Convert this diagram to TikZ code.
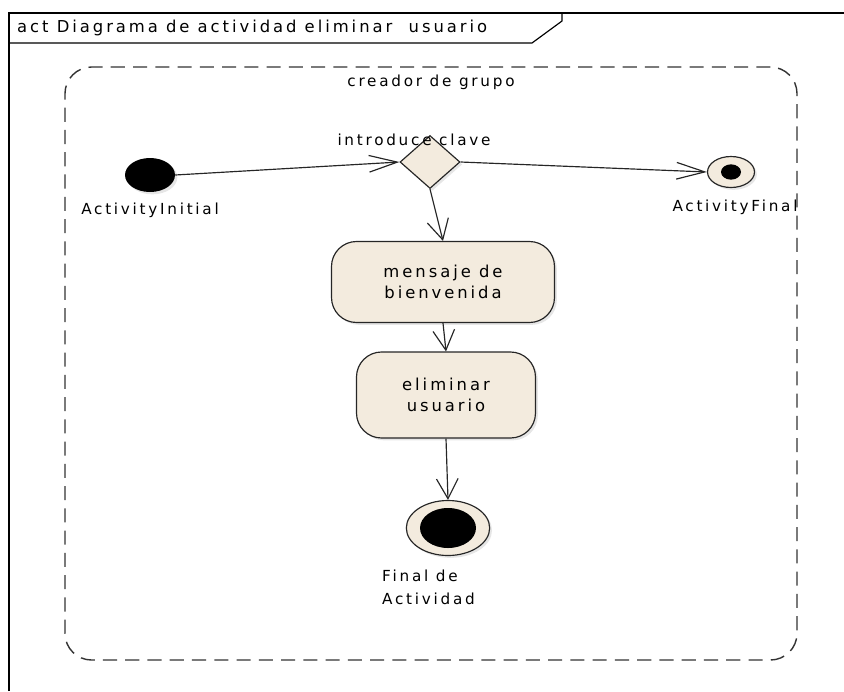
\documentclass[tikz,border=0pt]{standalone}
\usepackage{fontspec}
\setmainfont{DejaVu Sans}[LetterSpace=18]
\usepackage{xcolor}
\usetikzlibrary{shapes.geometric, arrows.meta, positioning, shadows}
\definecolor{beige}{RGB}{243,235,222}

\begin{document}
\begin{tikzpicture}[x=0.03cm, y=-0.03cm,
        accion/.style={rectangle, draw=black!85, fill=beige, line width=1pt, rounded corners=0.75cm, align=center,
            font=\fontsize{14}{18}\selectfont, drop shadow={shadow xshift=2pt, shadow yshift=-2pt, opacity=0.2}},
        flecha/.style={-{Straight Barb[length=0.6cm, width=0.65cm]}, line width=1pt, color=black!85},
        flechah/.style={-{Straight Barb[length=0.85cm, width=0.5cm]}, line width=1pt, color=black!85},
        lab/.style={font=\fontsize{13}{19}\selectfont, inner sep=0pt},
        particion/.style={rectangle, draw=black!80, line width=1.2pt, dash pattern=on 12pt off 7pt, rounded corners=0.8cm}
    ]
    \useasboundingbox (0,0) rectangle (844,691);

    % Marco del diagrama y pestaña del título
    \draw [line width=1pt] (9,691) -- (9,13) -- (844,13);
    \draw [line width=1pt] (9,43) -- (532,43) -- (562,21) -- (562,13);
    \node (titulo) [lab, anchor=west, font=\fontsize{14}{18}\selectfont] at (17,28) {act Diagrama de actividad eliminar \ usuario};

    % Partición
    \node (grupo) [particion, minimum width=21.96cm, minimum height=17.79cm] at (431,363.5) {};
    \node (grupolab) [lab] at (431,82) {creador de grupo};

    % Nodos
    \node (inicio) [ellipse, fill=black, minimum width=1.5cm, minimum height=1.02cm, inner sep=0pt,
        drop shadow={shadow xshift=2pt, shadow yshift=-2pt, opacity=0.2}] at (150,175) {};
    \node (decision) [diamond, draw=black!85, fill=beige, line width=1pt, minimum width=1.8cm, minimum height=1.59cm, inner sep=0pt,
        drop shadow={shadow xshift=2pt, shadow yshift=-2pt, opacity=0.2}] at (430,162) {};
    \node (fin) [ellipse, draw=black!85, fill=beige, line width=1pt, minimum width=1.41cm, minimum height=0.93cm, inner sep=0pt,
        drop shadow={shadow xshift=2pt, shadow yshift=-2pt, opacity=0.2}] at (731,172) {};
    \node (findot) [ellipse, fill=black, minimum width=0.6cm, minimum height=0.46cm, inner sep=0pt] at (fin.center) {};
    \node (mensaje) [accion, minimum width=6.69cm, minimum height=2.43cm] at (443,282) {mensaje de \\ bienvenida};
    \node (eliminar) [accion, minimum width=5.37cm, minimum height=2.58cm] at (446,395) {eliminar \\ usuario};
    \node (final) [ellipse, draw=black!85, fill=beige, line width=1pt, minimum width=2.5cm, minimum height=1.65cm, inner sep=0pt,
        drop shadow={shadow xshift=2pt, shadow yshift=-2pt, opacity=0.2}] at (448,528) {};
    \node (finaldot) [ellipse, fill=black, minimum width=1.68cm, minimum height=1.2cm, inner sep=0pt] at (final.center) {};

    % Etiquetas
    \node (iniciolab) [lab] at (150,210) {ActivityInitial};
    \node (declab) [lab] at (414,140) {introduce clave};
    \node (finlab) [lab] at (735,207) {ActivityFinal};
    \node (finallab) [lab, align=left, anchor=north west] at (382,570) {Final de \\ Actividad};

    % Flujos
    \draw [flechah] (inicio.east) -- (decision.west);
    \draw [flechah] (decision.east) -- (fin.west);
    \draw [flecha] (decision.south) -- (mensaje.north);
    \draw [flecha] (mensaje.south) -- (eliminar.north);
    \draw [flecha] (eliminar.south) -- (final.north);

\end{tikzpicture}
\end{document}
